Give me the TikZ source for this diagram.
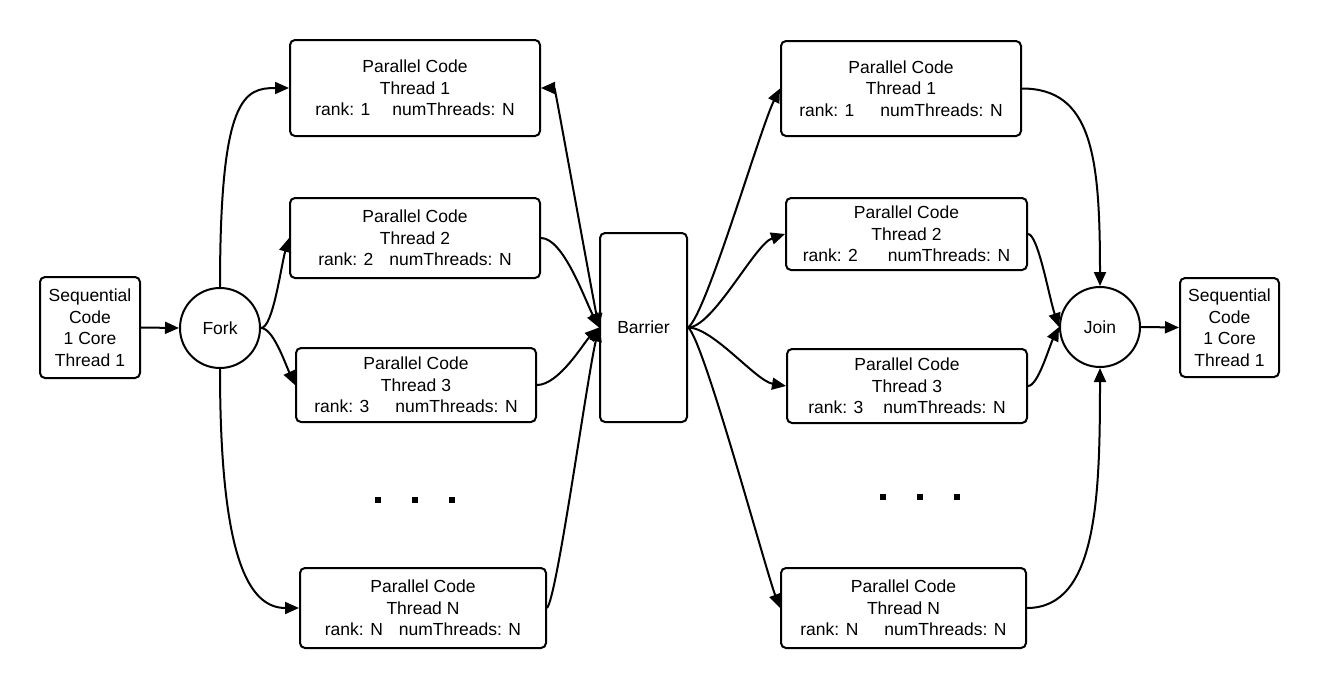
\documentclass[tikz,border=0pt]{standalone}
\usepackage{fontspec}
\setmainfont{Liberation Sans}
\usetikzlibrary{arrows.meta}
\begin{document}
\begin{tikzpicture}[x=1pt,y=-1pt,
  every node/.style={font=\fontsize{17.5}{21.5}\selectfont, align=center, inner sep=0pt, line width=2pt},
  pbox/.style={draw, rounded corners=5pt},
  circ/.style={draw, circle, minimum size=80pt},
  conn/.style={line width=2pt, -{Triangle[length=14pt,width=12pt]}},
  biconn/.style={line width=2pt, {Triangle[length=14pt,width=12pt]}-{Triangle[length=14pt,width=12pt]}},
  dotsq/.style={fill, minimum size=6pt, inner sep=0pt}
]
\useasboundingbox (0,0) rectangle (1320,688);

\node[pbox, minimum width=100pt, minimum height=101pt] (SL) at (90,327.5) {Sequential\\Code\\1 Core\\Thread 1};
\node[circ] (F) at (220,328) {Fork};

\node[pbox, minimum width=250pt, minimum height=96pt] (L1) at (415,88) {Parallel Code\\Thread 1\\rank: 1\hspace{22pt}numThreads: N};
\node[pbox, minimum width=250pt, minimum height=80pt] (L2) at (415,238) {Parallel Code\\Thread 2\\rank: 2\hspace{16pt}numThreads: N};
\node[pbox, minimum width=240pt, minimum height=74pt] (L3) at (416,385) {Parallel Code\\Thread 3\\rank: 3\hspace{26pt}numThreads: N};
\node[pbox, minimum width=246pt, minimum height=80pt] (LN) at (423,608) {Parallel Code\\Thread N\\rank: N\hspace{16pt}numThreads: N};

\node[pbox, minimum width=87pt, minimum height=189pt] (B) at (643.5,327.5) {Barrier};

\node[pbox, minimum width=240pt, minimum height=95pt] (R1) at (901,88.5) {Parallel Code\\Thread 1\\rank: 1\hspace{26pt}numThreads: N};
\node[pbox, minimum width=241pt, minimum height=72pt] (R2) at (906.5,234) {Parallel Code\\Thread 2\\rank: 2\hspace{30pt}numThreads: N};
\node[pbox, minimum width=240pt, minimum height=74pt] (R3) at (907,386) {Parallel Code\\Thread 3\\rank: 3\hspace{20pt}numThreads: N};
\node[pbox, minimum width=245pt, minimum height=80pt] (RN) at (903.5,608) {Parallel Code\\Thread N\\rank: N\hspace{26pt}numThreads: N};

\node[circ] (J) at (1100,327) {Join};
\node[pbox, minimum width=99pt, minimum height=99pt] (SR) at (1229.5,327.5) {Sequential\\Code\\1 Core\\Thread 1};

% dots
\node[dotsq] (d1) at (378,500) {};
\node[dotsq] (d2) at (415,500) {};
\node[dotsq] (d3) at (452,500) {};
\node[dotsq] (d4) at (883,497) {};
\node[dotsq] (d5) at (920,497) {};
\node[dotsq] (d6) at (957,497) {};

% connectors
\draw[conn] (SL.east) -- (F.west);
\draw[conn] (F.north) .. controls +(0,-190) and +(-45,0) .. (L1.west);
\draw[conn] (F.east) .. controls +(12,0) and +(-8,28) .. (L2.west);
\draw[conn] (F.east) .. controls +(12,0) and +(-10,-22) .. (L3.west);
\draw[conn] (F.south) .. controls +(0,190) and +(-50,0) .. (LN.west);

\draw[biconn] (L1.east) .. controls +(14,0) and +(-8,-40) .. (B.west);
\draw[conn] (L2.east) .. controls +(22,0) and +(-15,-30) .. (B.west);
\draw[conn] (L3.east) .. controls +(22,0) and +(-15,15) .. (B.west);
\draw[conn] (LN.east) .. controls +(10,-10) and +(-12,50) .. (B.west);

\draw[conn] (B.east) .. controls +(18,-12) and +(-20,40) .. (R1.west);
\draw[conn] (B.east) .. controls +(25,0) and +(-30,10) .. (R2.west);
\draw[conn] (B.east) .. controls +(25,0) and +(-30,-5) .. (R3.west);
\draw[conn] (B.east) .. controls +(15,10) and +(-15,-40) .. (RN.west);

\draw[conn] (R1.east) .. controls +(70,0) and +(0,-130) .. (J.north);
\draw[conn] (R2.east) .. controls +(10,0) and +(-10,-30) .. (J.west);
\draw[conn] (R3.east) .. controls +(10,0) and +(-10,20) .. (J.west);
\draw[conn] (RN.east) .. controls +(70,0) and +(0,130) .. (J.south);
\draw[conn] (J.east) -- (SR.west);
\end{tikzpicture}
\end{document}
